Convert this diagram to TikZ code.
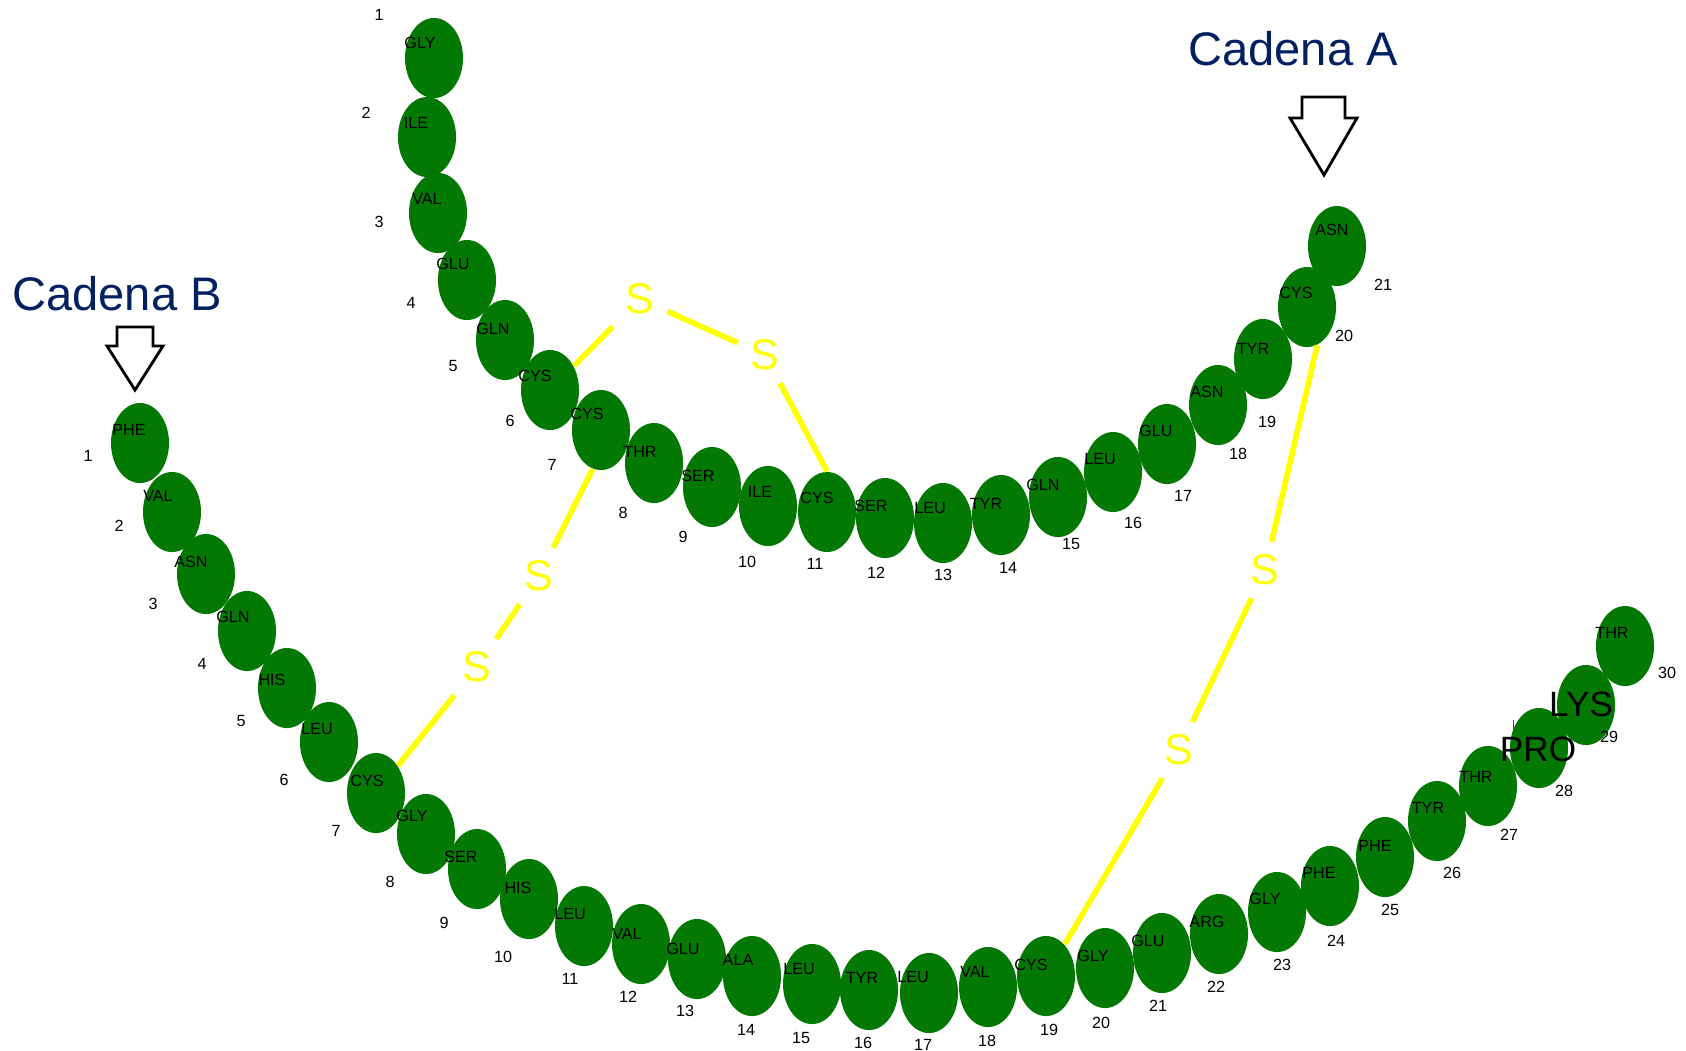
\documentclass[tikz,border=0pt]{standalone}
\usepackage{fontspec}
\setmainfont{Liberation Sans}
\usetikzlibrary{shapes.geometric}
\definecolor{resgreen}{RGB}{3,120,3}
\definecolor{ssyellow}{RGB}{255,255,0}
\definecolor{chainblue}{RGB}{0,32,96}

\begin{document}
\begin{tikzpicture}[x=0.01cm, y=-0.01cm,
	res/.style={ellipse, fill=resgreen, minimum width=0.58cm, minimum height=0.8cm, inner sep=0pt},
	rname/.style={inner sep=0pt, font=\fontsize{4.6}{5}\selectfont},
	rnum/.style={inner sep=0pt, font=\fontsize{4.6}{5}\selectfont},
	bigname/.style={inner sep=0pt, font=\fontsize{10}{12}\selectfont},
	sulf/.style={text=ssyellow, inner sep=3.5pt, font=\fontsize{12.2}{14}\selectfont},
	bond/.style={draw=ssyellow, line width=1.6pt},
	chainlabel/.style={text=chainblue, inner sep=0pt, font=\fontsize{13.4}{16}\selectfont},
	pointer/.style={draw=black, line width=0.8pt, fill=white}]
				\useasboundingbox (0,0) rectangle (1686,1050);
				% Draw chain A
				\node[res] (a1) at (434,58) {};
				\node[res] (a2) at (427,137) {};
				\node[res] (a3) at (438,213) {};
				\node[res] (a4) at (467,280) {};
				\node[res] (a5) at (505,340) {};
				\node[res] (a6) at (550,390) {};
				\node[res] (a7) at (601,430) {};
				\node[res] (a8) at (654,463) {};
				\node[res] (a9) at (712,487) {};
				\node[res] (a10) at (768,506) {};
				\node[res] (a11) at (827,512) {};
				\node[res] (a12) at (885,518) {};
				\node[res] (a13) at (943,523) {};
				\node[res] (a14) at (1001,515) {};
				\node[res] (a15) at (1058,497) {};
				\node[res] (a16) at (1113,472) {};
				\node[res] (a17) at (1167,444) {};
				\node[res] (a18) at (1218,405) {};
				\node[res] (a19) at (1263,359) {};
				\node[res] (a20) at (1307,307) {};
				\node[res] (a21) at (1337,246) {};
				% Draw chain B
				\node[res] (b1) at (140,443) {};
				\node[res] (b2) at (172,512) {};
				\node[res] (b3) at (206,574) {};
				\node[res] (b4) at (247,631) {};
				\node[res] (b5) at (287,688) {};
				\node[res] (b6) at (329,742) {};
				\node[res] (b7) at (376,793) {};
				\node[res] (b8) at (426,834) {};
				\node[res] (b9) at (477,869) {};
				\node[res] (b10) at (529,899) {};
				\node[res] (b11) at (584,926) {};
				\node[res] (b12) at (641,944) {};
				\node[res] (b13) at (697,959) {};
				\node[res] (b14) at (752,976) {};
				\node[res] (b15) at (812,984) {};
				\node[res] (b16) at (869,990) {};
				\node[res] (b17) at (929,993) {};
				\node[res] (b18) at (988,987) {};
				\node[res] (b19) at (1046,976) {};
				\node[res] (b20) at (1105,968) {};
				\node[res] (b21) at (1162,953) {};
				\node[res] (b22) at (1219,934) {};
				\node[res] (b23) at (1277,912) {};
				\node[res] (b24) at (1330,886) {};
				\node[res] (b25) at (1385,857) {};
				\node[res] (b26) at (1437,821) {};
				\node[res] (b27) at (1488,786) {};
				\node[res] (b28) at (1539,748) {};
				\node[res] (b29) at (1586,705) {};
				\node[res] (b30) at (1625,646) {};
				% Disulfide bridges
				\node[sulf] (s1) at (640,299) {S};
				\node[sulf] (s2) at (765,355) {S};
				\node[sulf] (s3) at (539,576) {S};
				\node[sulf] (s4) at (477,667) {S};
				\node[sulf] (s5) at (1265,570) {S};
				\node[sulf] (s6) at (1179,750) {S};
				\draw[bond] (a6) -- (s1);
				\draw[bond] (s1) -- (s2);
				\draw[bond] (s2) -- (a11.north);
				\draw[bond] (a7.-102) -- (s3);
				\draw[bond] (s3) -- (s4);
				\draw[bond] (s4) -- (b7);
				\draw[bond] (a20.-75) -- (s5);
				\draw[bond] (s5) -- (s6);
				\draw[bond] (s6) -- (b19);
				% Residue names and numbers, chain A
				\node[rname] (a1l) at (420,43) {GLY}; \node[rnum] (a1n) at (379,15) {1};
				\node[rname] (a2l) at (416,123) {ILE}; \node[rnum] (a2n) at (366,113) {2};
				\node[rname] (a3l) at (427,199) {VAL}; \node[rnum] (a3n) at (379,222) {3};
				\node[rname] (a4l) at (453,264) {GLU}; \node[rnum] (a4n) at (411,303) {4};
				\node[rname] (a5l) at (493,329) {GLN}; \node[rnum] (a5n) at (453,366) {5};
				\node[rname] (a6l) at (535,376) {CYS}; \node[rnum] (a6n) at (510,421) {6};
				\node[rname] (a7l) at (587,414) {CYS}; \node[rnum] (a7n) at (552,465) {7};
				\node[rname] (a8l) at (640,452) {THR}; \node[rnum] (a8n) at (623,513) {8};
				\node[rname] (a9l) at (698,476) {SER}; \node[rnum] (a9n) at (683,537) {9};
				\node[rname] (a10l) at (760,492) {ILE}; \node[rnum] (a10n) at (747,562) {10};
				\node[rname] (a11l) at (817,498) {CYS}; \node[rnum] (a11n) at (815,564) {11};
				\node[rname] (a12l) at (871,506) {SER}; \node[rnum] (a12n) at (876,573) {12};
				\node[rname] (a13l) at (930,508) {LEU}; \node[rnum] (a13n) at (943,575) {13};
				\node[rname] (a14l) at (986,504) {TYR}; \node[rnum] (a14n) at (1008,568) {14};
				\node[rname] (a15l) at (1043,485) {GLN}; \node[rnum] (a15n) at (1071,544) {15};
				\node[rname] (a16l) at (1100,459) {LEU}; \node[rnum] (a16n) at (1133,523) {16};
				\node[rname] (a17l) at (1156,431) {GLU}; \node[rnum] (a17n) at (1183,496) {17};
				\node[rname] (a18l) at (1207,392) {ASN}; \node[rnum] (a18n) at (1238,454) {18};
				\node[rname] (a19l) at (1253,349) {TYR}; \node[rnum] (a19n) at (1267,422) {19};
				\node[rname] (a20l) at (1296,293) {CYS}; \node[rnum] (a20n) at (1344,336) {20};
				\node[rname] (a21l) at (1332,230) {ASN}; \node[rnum] (a21n) at (1383,285) {21};
				% Residue names and numbers, chain B
				\node[rname] (b1l) at (129,430) {PHE}; \node[rnum] (b1n) at (88,456) {1};
				\node[rname] (b2l) at (158,496) {VAL}; \node[rnum] (b2n) at (119,526) {2};
				\node[rname] (b3l) at (191,562) {ASN}; \node[rnum] (b3n) at (153,604) {3};
				\node[rname] (b4l) at (233,617) {GLN}; \node[rnum] (b4n) at (202,664) {4};
				\node[rname] (b5l) at (272,680) {HIS}; \node[rnum] (b5n) at (241,721) {5};
				\node[rname] (b6l) at (317,729) {LEU}; \node[rnum] (b6n) at (284,780) {6};
				\node[rname] (b7l) at (367,781) {CYS}; \node[rnum] (b7n) at (336,831) {7};
				\node[rname] (b8l) at (412,816) {GLY}; \node[rnum] (b8n) at (390,882) {8};
				\node[rname] (b9l) at (461,857) {SER}; \node[rnum] (b9n) at (444,923) {9};
				\node[rname] (b10l) at (518,888) {HIS}; \node[rnum] (b10n) at (503,957) {10};
				\node[rname] (b11l) at (570,914) {LEU}; \node[rnum] (b11n) at (570,979) {11};
				\node[rname] (b12l) at (627,934) {VAL}; \node[rnum] (b12n) at (628,997) {12};
				\node[rname] (b13l) at (683,949) {GLU}; \node[rnum] (b13n) at (685,1011) {13};
				\node[rname] (b14l) at (738,960) {ALA}; \node[rnum] (b14n) at (746,1030) {14};
				\node[rname] (b15l) at (799,969) {LEU}; \node[rnum] (b15n) at (801,1038) {15};
				\node[rname] (b16l) at (862,978) {TYR}; \node[rnum] (b16n) at (863,1043) {16};
				\node[rname] (b17l) at (913,977) {LEU}; \node[rnum] (b17n) at (923,1045) {17};
				\node[rname] (b18l) at (975,972) {VAL}; \node[rnum] (b18n) at (987,1041) {18};
				\node[rname] (b19l) at (1031,965) {CYS}; \node[rnum] (b19n) at (1049,1030) {19};
				\node[rname] (b20l) at (1093,956) {GLY}; \node[rnum] (b20n) at (1101,1023) {20};
				\node[rname] (b21l) at (1148,941) {GLU}; \node[rnum] (b21n) at (1158,1006) {21};
				\node[rname] (b22l) at (1207,922) {ARG}; \node[rnum] (b22n) at (1216,987) {22};
				\node[rname] (b23l) at (1265,899) {GLY}; \node[rnum] (b23n) at (1282,965) {23};
				\node[rname] (b24l) at (1319,873) {PHE}; \node[rnum] (b24n) at (1336,941) {24};
				\node[rname] (b25l) at (1375,846) {PHE}; \node[rnum] (b25n) at (1390,910) {25};
				\node[rname] (b26l) at (1428,808) {TYR}; \node[rnum] (b26n) at (1452,873) {26};
				\node[rname] (b27l) at (1476,777) {THR}; \node[rnum] (b27n) at (1509,835) {27};
				\node[bigname] (b28l) at (1538,749) {PRO}; \node[rnum] (b28n) at (1564,791) {28};
				\node[bigname] (b29l) at (1581,704) {LYS}; \node[rnum] (b29n) at (1609,737) {29};
				\node[rname] (b30l) at (1612,633) {THR}; \node[rnum] (b30n) at (1667,673) {30};
				\draw[black!70, line width=0.3pt] (1513,720) -- (1513,732);
				% Chain labels and arrows
				\node[chainlabel] (cadA) at (1293,49) {Cadena A};
				\node[chainlabel] (cadB) at (117,294) {Cadena B};
				\draw[pointer] (1302,97) -- (1345,97) -- (1345,118) -- (1357,118) -- (1324,175) -- (1290,118) -- (1302,118) -- cycle;
				\draw[pointer] (117,327) -- (153,327) -- (153,346) -- (163,346) -- (135,390) -- (107,346) -- (117,346) -- cycle;
			\end{tikzpicture}
\end{document}
